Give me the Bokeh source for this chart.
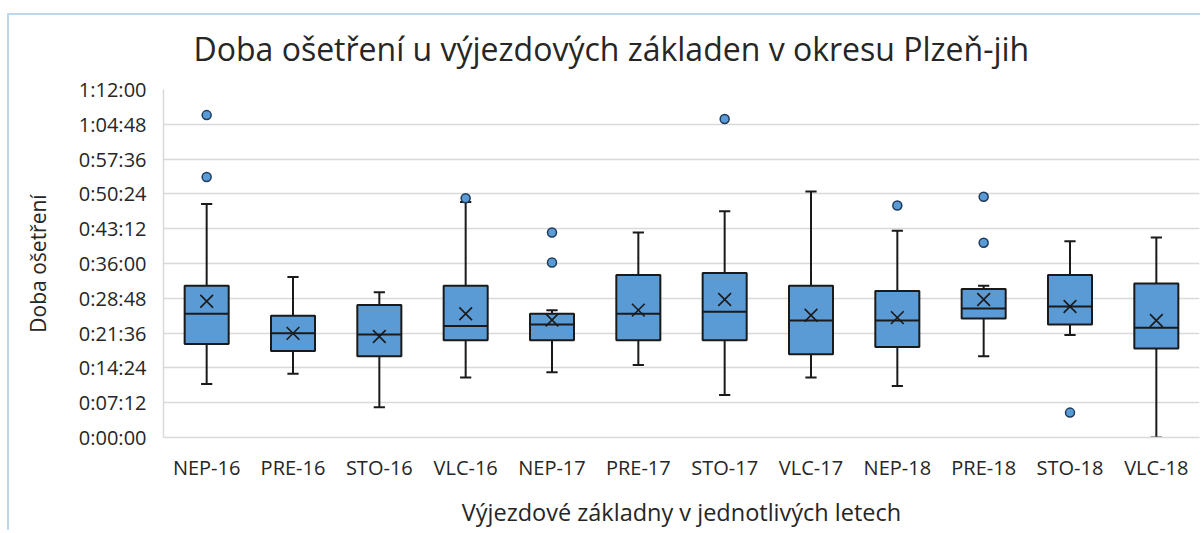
from bokeh.plotting import figure
from bokeh.models import FactorRange, Range1d, FixedTicker, ColumnDataSource
from bokeh.transform import dodge
from bokeh.embed import file_html
from bokeh.resources import INLINE

# ---- data (minutes) ----
categories = ["NEP-16", "PRE-16", "STO-16", "VLC-16", "NEP-17", "PRE-17",
              "STO-17", "VLC-17", "NEP-18", "PRE-18", "STO-18", "VLC-18"]
whisker_low = [11.05, 13.2, 6.26, 12.4, 13.5, 15.0, 8.8, 12.4, 10.65, 16.8, 21.2, 0.0]
quartile_1 = [19.35, 17.9, 16.8, 20.1, 20.1, 20.1, 20.1, 17.2, 18.7, 24.6, 23.4, 18.4]
median = [25.6, 21.55, 21.3, 23.06, 23.4, 25.6, 26.0, 24.2, 24.2, 26.7, 27.1, 22.7]
quartile_3 = [31.4, 25.2, 27.4, 31.4, 25.6, 33.6, 34.05, 31.4, 30.3, 30.75, 33.6, 31.85]
whisker_high = [48.3, 33.2, 30.06, 48.7, 26.35, 42.4, 46.8, 50.9, 42.8, 31.4, 40.6, 41.4]
mean = [28.2, 21.55, 20.9, 25.6, 24.3, 26.35, 28.55, 25.3, 24.8, 28.55, 27.1, 24.2]
outliers = [[66.7, 53.9], [], [], [49.5], [42.4, 36.2], [], [65.9], [], [48.0],
            [49.8, 40.3], [5.15], []]
y_tick_labels = ["0:00:00", "0:07:12", "0:14:24", "0:21:36", "0:28:48", "0:36:00",
                 "0:43:12", "0:50:24", "0:57:36", "1:04:48", "1:12:00"]

title_text = "Doba ošetření u výjezdových základen v okresu Plzeň-jih"
x_label = "Výjezdové základny v jednotlivých letech"
y_label = "Doba ošetření"


def to_sec(s):
    h, m, sec = (int(v) for v in s.split(":"))
    return h * 3600 + m * 60 + sec


def m2s(lst):
    return [v * 60 for v in lst]


y_ticks = [to_sec(s) for s in y_tick_labels]

FONT = "Open Sans"
TEXT = "#262626"
BLUE = "#5B9BD5"
DARK = "#1a1a1a"
FRAME_BLUE = "#bdd7ee"

src = ColumnDataSource(dict(
    cat=categories,
    low=m2s(whisker_low), q1=m2s(quartile_1), med=m2s(median),
    q3=m2s(quartile_3), high=m2s(whisker_high), mean=m2s(mean),
))

ox, oy = [], []
for c, vals in zip(categories, outliers):
    for v in vals:
        ox.append(c)
        oy.append(v * 60)

p = figure(
    width=1200, height=530,
    x_range=FactorRange(*categories, range_padding=0),
    y_range=Range1d(y_ticks[0], y_ticks[-1]),
    output_backend="svg", toolbar_location=None,
    min_border_left=163, min_border_right=1, min_border_top=89, min_border_bottom=91,
)
# light-blue chart-area border on the left and top, shown through a transparent border fill
p.border_fill_color = None
p.background_fill_color = "white"
p.styles = {
    "background": (f"linear-gradient({FRAME_BLUE}, {FRAME_BLUE}) 7px 13px / 100% 2px no-repeat, "
                   f"linear-gradient({FRAME_BLUE}, {FRAME_BLUE}) 7px 13px / 2px 100% no-repeat, "
                   "white"),
}

p.title.text = title_text
p.title.align = "left"
p.title.offset = 30
p.title.text_font = FONT
p.title.text_font_size = "32px"
p.title.text_font_style = "normal"
p.title.text_color = TEXT
p.title.standoff = 40

p.outline_line_color = None
p.xgrid.grid_line_color = None
p.ygrid.grid_line_color = "#d9d9d9"
p.ygrid.grid_line_width = 1.5

p.yaxis.ticker = FixedTicker(ticks=y_ticks)
p.yaxis.major_label_overrides = {t: lab for t, lab in zip(y_ticks, y_tick_labels)}

for ax in (p.xaxis[0], p.yaxis[0]):
    ax.axis_line_color = "#d9d9d9"
    ax.axis_line_width = 1.5
    ax.major_tick_line_color = None
    ax.minor_tick_line_color = None
    ax.major_tick_out = 0
    ax.major_tick_in = 0
    ax.major_label_text_font = FONT
    ax.major_label_text_font_size = "20px"
    ax.major_label_text_color = TEXT
    ax.axis_label_text_font = FONT
    ax.axis_label_text_font_style = "normal"
    ax.axis_label_text_color = TEXT

p.xaxis.axis_label = x_label
p.xaxis.axis_label_text_font_size = "23.5px"
p.xaxis.major_label_standoff = 16
p.xaxis.axis_label_standoff = 12
p.yaxis.axis_label = y_label
p.yaxis.axis_label_text_font_size = "21px"
p.yaxis.major_label_standoff = 17
p.yaxis.axis_label_standoff = 24

# whiskers
p.segment(x0="cat", y0="low", x1="cat", y1="high", source=src,
          line_color=DARK, line_width=2)
p.segment(x0=dodge("cat", -0.065, range=p.x_range), y0="high",
          x1=dodge("cat", 0.065, range=p.x_range), y1="high", source=src,
          line_color=DARK, line_width=2)
p.segment(x0=dodge("cat", -0.065, range=p.x_range), y0="low",
          x1=dodge("cat", 0.065, range=p.x_range), y1="low", source=src,
          line_color=DARK, line_width=2)
# boxes
p.vbar(x="cat", bottom="q1", top="q3", width=0.51, source=src,
       fill_color=BLUE, line_color=DARK, line_width=2)
# medians
p.segment(x0=dodge("cat", -0.255, range=p.x_range), y0="med",
          x1=dodge("cat", 0.255, range=p.x_range), y1="med", source=src,
          line_color=DARK, line_width=2)
# means
p.scatter(x="cat", y="mean", source=src, marker="x", size=18,
          line_color=DARK, line_width=1.6)
# outliers
p.scatter(x=ox, y=oy, marker="circle", size=9, fill_color=BLUE,
          line_color="#1f3b5c", line_width=1.5)

open("out.html", "w").write(file_html(p, INLINE))
